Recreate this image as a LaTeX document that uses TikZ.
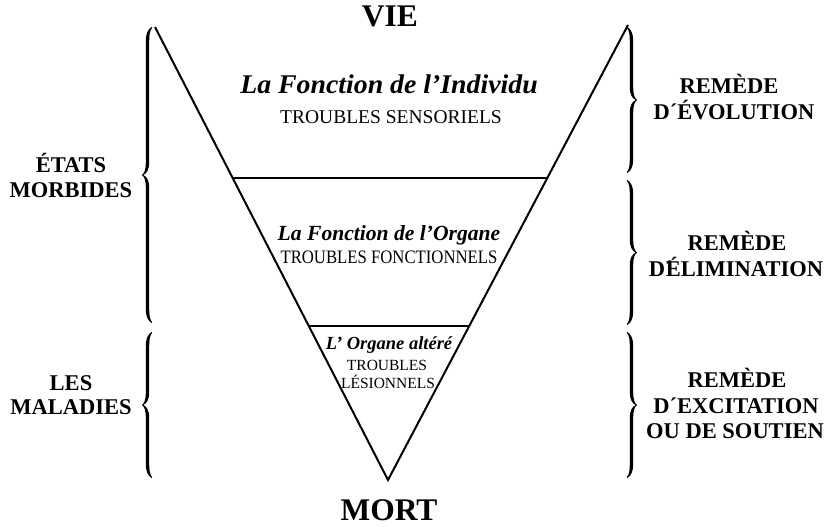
\documentclass[tikz,border=0pt]{standalone}
\usepackage{fontspec}
\setmainfont{Liberation Serif}
\begin{document}
\begin{tikzpicture}[x=1pt,y=-1pt,
  lbl/.style={inner sep=0pt, anchor=base},
  big/.style={lbl, font=\fontsize{31.5}{38}\selectfont\bfseries},
  side/.style={lbl, font=\fontsize{22.5}{26}\selectfont\bfseries},
  titleA/.style={lbl, font=\fontsize{27}{32}\selectfont\bfseries\itshape},
  titleB/.style={lbl, font=\fontsize{21.6}{26}\selectfont\bfseries\itshape},
  titleC/.style={lbl, font=\fontsize{18.5}{22}\selectfont\bfseries\itshape},
  troubleA/.style={lbl, font=\fontsize{19.5}{24}\selectfont},
  troubleB/.style={lbl, font=\fontsize{19}{23}\selectfont},
  troubleC/.style={lbl, font=\fontsize{15.5}{19}\selectfont},
  tri/.style={line width=2pt, line join=miter},
  pics/tbrace/.style={code={
    \fill (9.6,-#1) .. controls (5.2,-#1+3) and (3.8,-#1+7) .. (3.8,-#1+15)
      -- (3.8,-13) .. controls (3.8,-5) and (2.2,-1.6) .. (0,0)
      .. controls (2.2,1.6) and (3.8,5) .. (3.8,13)
      -- (3.8,#1-15) .. controls (3.8,#1-7) and (5.2,#1-3) .. (9.6,#1)
      -- (10.2,#1-0.6) .. controls (7.6,#1-4) and (7.2,#1-8) .. (7.2,#1-15)
      -- (7.2,13) .. controls (7.2,5) and (4.5,1.4) .. (1.2,0)
      .. controls (4.5,-1.4) and (7.2,-5) .. (7.2,-13)
      -- (7.2,-#1+15) .. controls (7.2,-#1+8) and (7.6,-#1+4) .. (10.2,-#1+0.6)
      -- cycle;}}]
\useasboundingbox (0,0) rectangle (830,527);
\fill[white] (0,0) rectangle (830,527);
% triangle
\coordinate (tl) at (155,27);
\coordinate (tr) at (628,25);
\coordinate (apex) at (388,480);
\coordinate (l1) at (232.7,178);
\coordinate (r1) at (547.3,178);
\coordinate (l2) at (308.8,326);
\coordinate (r2) at (469.2,326);
\draw[tri] (tl) -- (apex) -- (tr);
\draw[tri] (l1) -- (r1);
\draw[tri] (l2) -- (r2);
% braces
\pic (lbraceA) at (142,175) {tbrace=148};
\pic (lbraceB) at (142,405) {tbrace=73};
\pic[xscale=-1] (rbraceA) at (637,100) {tbrace=73};
\pic[xscale=-1] (rbraceB) at (637,252.5) {tbrace=72.5};
\pic[xscale=-1] (rbraceC) at (637,405) {tbrace=73};
% top / bottom
\node[big] (vie) at (390,27) {VIE};
\node[big] (mort) at (389,520) {MORT};
% inside
\node[titleA] (indiv) at (389,93) {\scalebox{1.03}[1]{La Fonction de l’Individu}};
\node[troubleA] (sens) at (391,123) {TROUBLES SENSORIELS};
\node[titleB] (organe) at (389,240) {La Fonction de l’Organe};
\node[troubleB] (fonct) at (389,263) {\scalebox{0.88}[1]{TROUBLES FONCTIONNELS}};
\node[titleC] (altere) at (389,349) {L’ Organe altéré};
\node[troubleC] (troub) at (387,370) {TROUBLES};
\node[troubleC] (lesion) at (388,388) {LÉSIONNELS};
% left
\node[side] (etats) at (71,172) {ÉTATS};
\node[side] (morbides) at (71,197) {MORBIDES};
\node[side] (les) at (71,390) {LES};
\node[side] (maladies) at (71,414) {MALADIES};
% right
\node[side] (rem1) at (729,93) {REMÈDE};
\node[side] (evol) at (734,119) {D´ÉVOLUTION};
\node[side] (rem2) at (737,250) {REMÈDE};
\node[side] (elim) at (736,276) {D´\kern-0.3emÉLIMINATION};
\node[side] (rem3) at (737,387) {REMÈDE};
\node[side] (excit) at (736,413) {D´EXCITATION};
\node[side] (sout) at (735,438) {OU DE SOUTIEN};
\end{tikzpicture}
\end{document}
